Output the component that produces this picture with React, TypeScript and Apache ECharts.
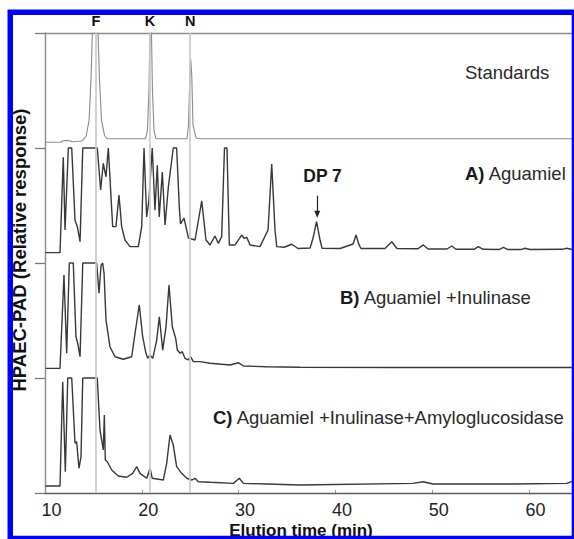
import React, { useEffect, useRef } from "react";
import * as echarts from "echarts";

// ---------- data (elution time in min, response in % of panel height) ----------
const X_MIN = 10;
const X_MAX = 64.5;
const X_TICK_INTERVAL = 10;

const STANDARDS: [number, number][] = [
  [10.05, 5], [11.65, 5], [11.86, 6.3], [12.17, 6.5], [12.58, 6.3], [12.79, 5.4], [13.82, 6.1],
  [14.24, 10], [14.55, 24], [14.75, 58.7], [14.89, 100], [15.48, 100], [15.63, 58.7], [15.84, 24],
  [16.15, 10.9], [16.4, 8], [20.38, 8], [20.58, 15.2], [20.74, 50], [20.84, 100], [21.0, 100],
  [21.1, 50], [21.26, 15.2], [21.47, 8], [24.67, 8], [24.82, 19.6], [24.98, 67.4], [25.05, 77.6],
  [25.16, 63], [25.29, 19.6], [25.6, 8.7], [26.01, 8], [64.5, 8],
];

const AGUAMIEL: [number, number][] = [
  [10.05, 9], [11.55, 9], [11.89, 92], [12.07, 28.7], [12.41, 100], [12.76, 100], [13.1, 37.4],
  [13.34, 31.6], [13.62, 18.5], [13.9, 100], [15.4, 100], [15.75, 63.5], [16.02, 86.7], [16.3, 75],
  [16.54, 100], [16.99, 31.6], [17.33, 31.6], [17.64, 59], [17.92, 31.6], [18.26, 20], [18.78, 14.2],
  [19.64, 14.2], [19.99, 31.6], [20.23, 100], [20.5, 40], [20.74, 55], [21.08, 100], [21.36, 46],
  [21.6, 85], [21.8, 40], [22.12, 79], [22.4, 33], [22.74, 66], [23.25, 100], [23.6, 100],
  [23.87, 49], [24.0, 34], [24.36, 39], [24.82, 21.7], [25.5, 20], [26.19, 54], [26.63, 20],
  [27.05, 15.7], [27.56, 23.5], [27.9, 17.1], [28.25, 22.9], [28.54, 100], [28.8, 100], [29.04, 15.7],
  [29.63, 15.7], [30.32, 24.3], [30.56, 21.5], [30.84, 22.3], [31.18, 15.7], [32.21, 14.2],
  [33.04, 28.7], [33.42, 86], [33.76, 28.7], [33.94, 14.2], [34.69, 13.7], [35.49, 16.3],
  [36.14, 12.6], [37.38, 13], [37.69, 21.7], [38.05, 35.9], [38.41, 20], [38.62, 12.8],
  [40.48, 12.6], [41.82, 16.5], [42.13, 24.3], [42.44, 15.7], [42.64, 12.6], [45.12, 12.6],
  [45.82, 18.5], [46.36, 12.6], [48.53, 12.4], [49.08, 15.7], [49.57, 12.2], [51.53, 12.2],
  [52.01, 14.8], [52.46, 11.9], [54.32, 11.9], [54.76, 14.2], [55.25, 11.9], [56.9, 11.7],
  [57.35, 13.5], [57.83, 11.7], [59.17, 11.7], [59.59, 12.8], [60.1, 11.7], [63.4, 11.9],
  [63.9, 12.8], [64.5, 11.7],
];

const INULINASE: [number, number][] = [
  [10.05, 8.4], [11.55, 8.4], [11.96, 89.6], [12.24, 21.5], [12.51, 100], [12.92, 100], [13.2, 35.9],
  [13.38, 30.2], [13.62, 18.5], [13.9, 100], [15.34, 100], [15.58, 73.7], [15.79, 98], [15.96, 100],
  [16.1, 91], [16.3, 50.4], [16.71, 27.2], [17.23, 18.5], [18.09, 16.3], [18.96, 18.5], [19.3, 38.9],
  [19.74, 63.5], [20.09, 35.9], [20.43, 21.5], [20.61, 17.1], [20.85, 20], [21.13, 17.1],
  [21.54, 33], [21.81, 53.3], [22.16, 24.3], [22.5, 44.6], [22.81, 80.9], [23.15, 44.6],
  [23.5, 34.5], [23.67, 24.3], [23.95, 21.5], [24.18, 22.9], [24.46, 17.1], [24.8, 15.7],
  [25.05, 18.5], [25.32, 14.2], [26.01, 14.2], [27.05, 12.8], [29.11, 11.3], [29.97, 13.3],
  [30.49, 10.4], [32.9, 9.8], [36.34, 9.3], [46.67, 9.1], [64.5, 9.1],
];

const INULINASE_AMG: [number, number][] = [
  [10.05, 6.1], [11.55, 6.1], [11.83, 96.8], [12.1, 18.5], [12.35, 100], [12.76, 100], [13.1, 43.2],
  [13.27, 44.6], [13.51, 21.5], [13.72, 31.6], [13.9, 100], [15.4, 100], [15.68, 54.8], [16.02, 37.4],
  [16.13, 67.8], [16.23, 28.7], [16.44, 27.2], [16.89, 20], [17.57, 14.8], [18.44, 13.7],
  [19.06, 17.1], [19.47, 22.9], [19.81, 17.1], [20.51, 12.8], [20.85, 21.5], [21.08, 12.8],
  [22.22, 11.3], [22.57, 25.8], [22.91, 50.4], [23.25, 41.7], [23.6, 22.9], [24.12, 17.1],
  [24.64, 12.8], [25.15, 11.3], [25.5, 12.8], [25.84, 9.8], [27.05, 9.3], [29.45, 8.4],
  [30.07, 12.8], [30.49, 8.4], [32.9, 7.8], [36.34, 7.0], [48.02, 8.4], [49.05, 9.8],
  [50.09, 7.8], [58.35, 7.8], [63.9, 8.4], [64.5, 10.4],
];

// panel offsets: Standards on top (3), then A (2), B (1), C (0)
const TRACES = [STANDARDS, AGUAMIEL, INULINASE, INULINASE_AMG];
const PANEL_OFFSETS = [3, 2, 1, 0];
const PANEL_LABEL_BOLD = ["", "A)", "B)", "C)"];
const PANEL_LABEL_TEXT = ["Standards", "Aguamiel", "Aguamiel +Inulinase", "Aguamiel +Inulinase+Amyloglucosidase"];

const MARKER_NAMES = ["F", "K", "N"];
const MARKER_TIMES = [15.25, 20.85, 25.0];

const DP7_LABEL = "DP 7";
const DP7_TIME = 38.12;

const X_TITLE = "Elution time (min)";
const Y_TITLE = "HPAEC-PAD (Relative response)";

const FONT = "'Liberation Sans', Arial, Helvetica, sans-serif";

export default function App() {
  const ref = useRef<HTMLDivElement>(null);

  useEffect(() => {
    if (!ref.current) return;
    const chart = echarts.init(ref.current, null, { renderer: "svg" });

    const traceSeries = TRACES.map((tr, i) => ({
      type: "line",
      data: tr.map(([t, r]) => [t, PANEL_OFFSETS[i] + r / 100]),
      showSymbol: false,
      symbol: "none",
      z: 3,
      lineStyle: i === 0 ? { color: "#8a8a8a", width: 1.1 } : { color: "#383838", width: 1.4 },
      silent: true,
    }));

    const labelPos = [
      { x: 465, y: 72 },
      { x: 465, y: 173 },
      { x: 340, y: 297 },
      { x: 213, y: 417 },
    ];

    const panelTexts = PANEL_LABEL_TEXT.map((txt, i) => ({
      type: "text",
      x: labelPos[i].x,
      y: labelPos[i].y,
      z: 20,
      style: {
        text: PANEL_LABEL_BOLD[i] ? `{b|${PANEL_LABEL_BOLD[i]}} ${txt}` : txt,
        fontFamily: FONT,
        fontSize: 18.5,
        fill: "#2a2a2a",
        verticalAlign: "middle",
        align: "left",
        rich: {
          b: { fontFamily: FONT, fontSize: 18.5, fontWeight: "bold", fill: "#1a1a1a", color: "#1a1a1a" },
        },
      },
    }));

    chart.setOption({
      animation: false,
      backgroundColor: "#ffffff",
      grid: { left: 45, right: 1.4, top: 33, bottom: 46, containLabel: false, outerBoundsMode: "none" },
      xAxis: [
        {
          type: "value",
          min: X_MIN,
          max: X_MAX,
          interval: X_TICK_INTERVAL,
          axisLine: { show: true, lineStyle: { color: "#5a5a5a", width: 1.4 } },
          axisTick: { show: true, inside: true, length: 3, lineStyle: { color: "#999" } },
          axisLabel: {
            show: true,
            fontFamily: FONT,
            fontSize: 18,
            lineHeight: 14,
            color: "#222",
            margin: 10,
            padding: [0, 0, 0, 13],
            showMaxLabel: false,
            formatter: (v: number) => (v % 10 === 0 && v <= 60 ? String(v) : ""),
          },
          splitLine: { show: false },
        },
        {
          type: "value",
          position: "top",
          min: X_MIN,
          max: X_MAX,
          interval: X_TICK_INTERVAL,
          axisLine: { show: true, lineStyle: { color: "#8a8a8a", width: 1.4 } },
          axisTick: { show: false },
          axisLabel: { show: false },
          splitLine: { show: false },
        },
      ],
      yAxis: {
        type: "value",
        min: 0,
        max: 4,
        interval: 1,
        axisLine: { show: true, lineStyle: { color: "#8a8a8a", width: 1.4 } },
        axisTick: { show: true, inside: false, length: 10, lineStyle: { color: "#7a7a7a", width: 1.3 } },
        axisLabel: { show: false },
        splitLine: { show: false },
      },
      series: [
        {
          type: "line",
          data: [],
          z: 1,
          silent: true,
          markLine: {
            silent: true,
            symbol: "none",
            lineStyle: { color: "#cacaca", width: 1.7, type: "solid" },
            label: {
              show: true,
              position: "end",
              distance: 5,
              formatter: "{b}",
              fontFamily: FONT,
              fontWeight: "bold",
              fontSize: 14.5,
              color: "#111",
            },
            emphasis: { disabled: true },
            data: MARKER_NAMES.map((n, i) => ({ name: n, xAxis: MARKER_TIMES[i] })),
          },
        },
        ...traceSeries,
        {
          type: "line",
          data: [],
          z: 5,
          silent: true,
          markLine: {
            silent: true,
            symbol: ["none", "triangle"],
            symbolSize: [6, 7],
            lineStyle: { color: "#222", width: 1.2, type: "solid" },
            label: { show: false },
            emphasis: { disabled: true },
            data: [[{ coord: [DP7_TIME, 2.585] }, { coord: [DP7_TIME, 2.425] }]],
          },
          markPoint: {
            silent: true,
            symbol: "circle",
            symbolSize: 0,
            label: {
              show: true,
              position: "inside",
              formatter: DP7_LABEL,
              fontFamily: FONT,
              fontWeight: "bold",
              fontSize: 17.5,
              color: "#1a1a1a",
            },
            emphasis: { disabled: true },
            data: [{ coord: [DP7_TIME + 0.55, 2.757] }],
          },
        },
      ],
      graphic: [
        ...panelTexts,
        {
          type: "text",
          x: 19,
          y: 250,
          rotation: Math.PI / 2,
          z: 20,
          style: {
            text: Y_TITLE,
            fontFamily: FONT,
            fontSize: 18.5,
            fontWeight: "bold",
            fill: "#111",
            align: "center",
            verticalAlign: "middle",
          },
        },
        {
          type: "text",
          x: 301,
          y: 530,
          z: 20,
          style: {
            text: X_TITLE,
            fontFamily: FONT,
            fontSize: 17,
            lineHeight: 16,
            fontWeight: "bold",
            fill: "#111",
            align: "center",
            verticalAlign: "middle",
          },
        },
        {
          type: "rect",
          z: 100,
          silent: true,
          shape: { x: 10.25, y: 12.25, width: 564.2, height: 526.2 },
          style: { fill: "none", stroke: "#0000ff", lineWidth: 5.5 },
        },
      ],
    });

    return () => chart.dispose();
  }, []);

  return (
    <div
      style={{ position: "fixed", left: 0, top: 0, width: 574, height: 539, background: "#fff", overflow: "hidden" }}
    >
      <div ref={ref} style={{ width: 574, height: 539 }} />
    </div>
  );
}
